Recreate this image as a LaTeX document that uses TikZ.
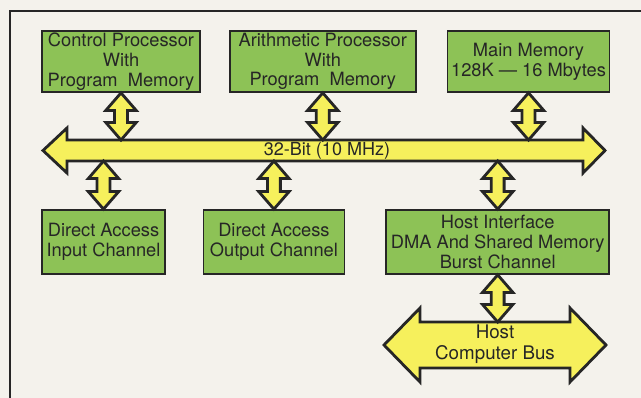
\documentclass[tikz,border=0pt]{standalone}
\usepackage{fontspec}
\setmainfont{TeX Gyre Heros}
\usetikzlibrary{calc, positioning}
\definecolor{boxgreen}{RGB}{141,194,86}
\definecolor{busyellow}{RGB}{246,240,92}
\definecolor{paper}{RGB}{244,242,236}
\definecolor{ink}{RGB}{38,38,38}

\begin{document}
\begin{tikzpicture}[
    x=0.03cm, y=-0.03cm,
    box/.style={draw=ink, line width=1.5pt, fill=boxgreen, align=center, inner sep=1pt, text=ink,
        minimum height=1.83cm, font=\fontsize{15.6}{16.8}\selectfont},
    fatbus/.style={draw=ink, line width=2.4pt, fill=busyellow, line join=miter},
    link/.style={fatbus, to path={let \p1=(\tikztostart), \p2=(\tikztotarget) in
        (\p1) -- (\x1+13pt,\y1-15pt) -- (\x1+5.5pt,\y1-15pt) -- (\x1+5.5pt,\y2+15pt) -- (\x1+13pt,\y2+15pt)
        -- (\x1,\y2) -- (\x1-13pt,\y2+15pt) -- (\x1-5.5pt,\y2+15pt) -- (\x1-5.5pt,\y1-15pt) -- (\x1-13pt,\y1-15pt) -- cycle}},
    buslabel/.style={text=ink, align=center, inner sep=0pt, font=\fontsize{15.4}{17}\selectfont},
]

% Page and frame
\useasboundingbox[fill=paper] (0,0) rectangle (641,398);
\draw[ink, line width=1.6pt] (10,398) -- (10,11) -- (641,11);

% Top row
\node[box, minimum width=4.74cm] (ctrl) at (121,61.5) {Control Processor\\With\\Program~~Memory};
\node[box, minimum width=5.58cm, right=0.84cm of ctrl] (arith) {Arithmetic Processor\\With\\Program~~Memory};
\node[box, minimum width=4.86cm, right=0.9cm of arith] (mem) {Main Memory\\128K --- 16 Mbytes};

% System bus
\coordinate (bustop) at (0,140);
\coordinate (busbot) at (0,161);
\draw[fatbus] (43,150.5) -- (67,128) -- (67,140) -- (583,140) -- (583,128) -- (605,150.5)
    -- (583,173) -- (583,161) -- (67,161) -- (67,173) -- cycle;
\node[buslabel] (bus) at (327,150.5) {32-Bit (10 MHz)};

% Bottom row
\node[box, minimum width=3.69cm, minimum height=1.92cm] (inch) at (103.5,242) {Direct Access\\Input Channel};
\node[box, minimum width=4.23cm, minimum height=1.92cm, right=1.1cm of inch] (outch) {Direct Access\\Output Channel};
\node[box, minimum width=6.69cm, minimum height=1.92cm, right=1.2cm of outch] (hostif) {Host Interface\\DMA And Shared Memory\\Burst Channel};

% Host bus
\coordinate (hosttop) at (0,322);
\draw[fatbus] (384,345) -- (420,308) -- (420,322) -- (570,322) -- (570,308) -- (606,345)
    -- (570,382) -- (570,368) -- (420,368) -- (420,382) -- cycle;
\node[buslabel, font=\fontsize{16}{18}\selectfont] (hostbus) at (495,344) {Host\\Computer Bus};

% Links
\draw[link] (ctrl.south) to (ctrl.south |- bustop);
\draw[link] (arith.south) to (arith.south |- bustop);
\draw[link] (mem.south) to (mem.south |- bustop);
\draw[link] (inch.north |- busbot) to (inch.north);
\draw[link] (outch.north |- busbot) to (outch.north);
\draw[link] (hostif.north |- busbot) to (hostif.north);
\draw[link] (hostif.south) to (hostif.south |- hosttop);

\end{tikzpicture}
\end{document}
